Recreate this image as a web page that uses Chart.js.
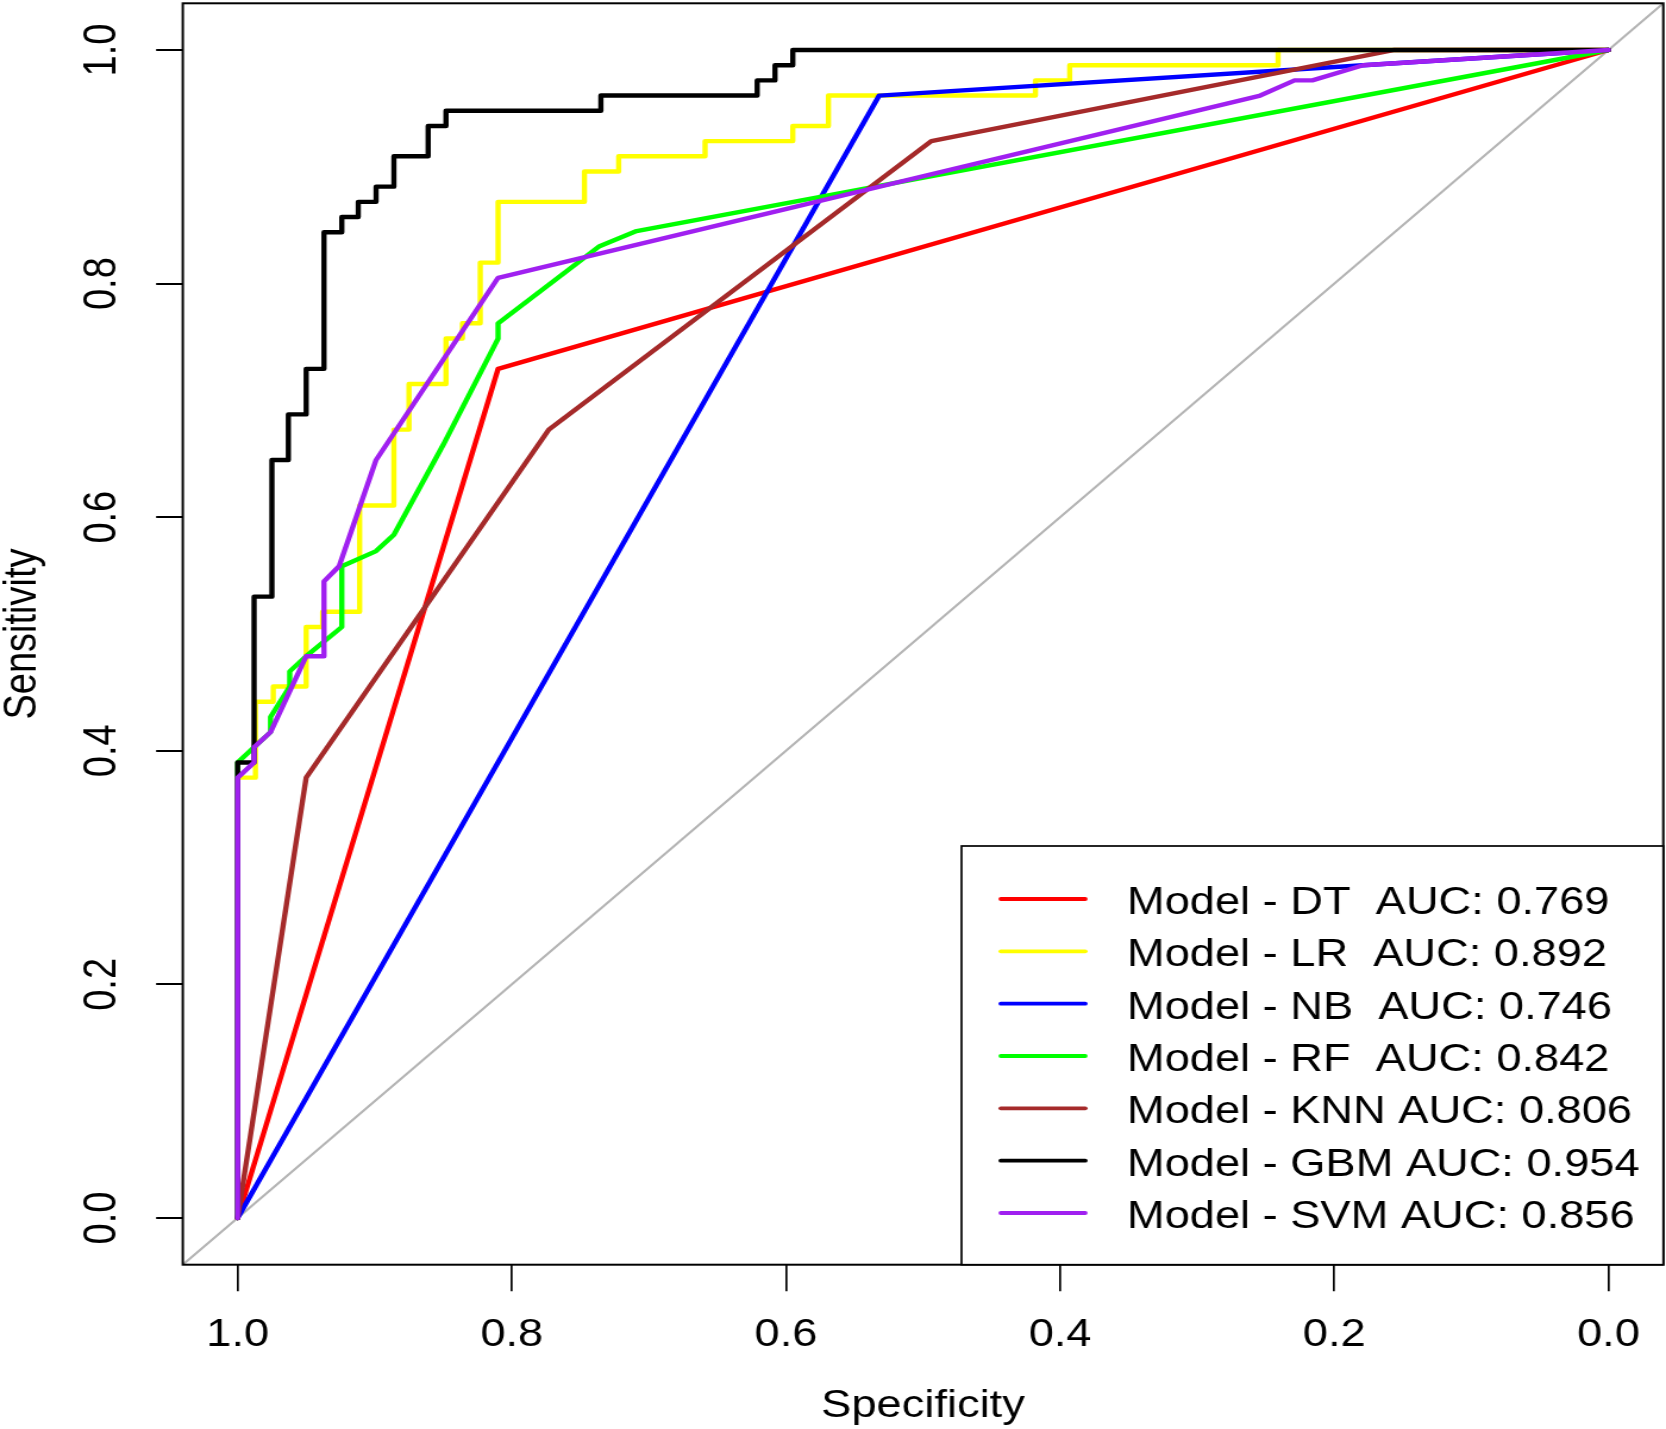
<!DOCTYPE html>
<html>
<head>
<meta charset="utf-8">
<script src="https://cdn.jsdelivr.net/npm/chart.js@4.4.1/dist/chart.umd.min.js"></script>
<style>
  html, body { margin: 0; padding: 0; background: #fff; }
  canvas { display: block; }
</style>
</head>
<body>
<!-- drawn at 1400 wide and stretched to 1666, like the source figure -->
<canvas id="roc" width="1400" height="1429" style="width:1666px;height:1429px"></canvas>
<script>
const xTicks = [1.0, 0.8, 0.6, 0.4, 0.2, 0.0];
const yTicks = [0.0, 0.2, 0.4, 0.6, 0.8, 1.0];

const modelNames = ['DT', 'LR', 'NB', 'RF', 'KNN', 'GBM', 'SVM'];
const aucValues = [0.769, 0.892, 0.746, 0.842, 0.806, 0.954, 0.856];

// roc points (specificity, sensitivity)
const dtSpec = [1, 0.810, 0];
const dtSens = [0, 0.727, 1];

const lrSpec = [1, 1, 0.987, 0.987, 0.974, 0.974, 0.950, 0.950, 0.938, 0.938, 0.911, 0.911, 0.886, 0.886,
    0.875, 0.875, 0.848, 0.848, 0.836, 0.836, 0.823, 0.823, 0.810, 0.810, 0.747, 0.747, 0.722, 0.722,
    0.659, 0.659, 0.595, 0.595, 0.569, 0.569, 0.418, 0.418, 0.393, 0.393, 0.241, 0.241, 0];
const lrSens = [0, 0.377, 0.377, 0.442, 0.442, 0.455, 0.455, 0.506, 0.506, 0.519, 0.519, 0.610, 0.610, 0.675,
    0.675, 0.714, 0.714, 0.753, 0.753, 0.766, 0.766, 0.818, 0.818, 0.870, 0.870, 0.896, 0.896, 0.909,
    0.909, 0.922, 0.922, 0.935, 0.935, 0.961, 0.961, 0.974, 0.974, 0.987, 0.987, 1, 1];

const nbSpec = [1, 0.532, 0.179, 0];
const nbSens = [0, 0.961, 0.987, 1];

const rfSpec = [1, 1, 0.988, 0.976, 0.976, 0.962, 0.962, 0.950, 0.924, 0.924, 0.899, 0.886, 0.850, 0.810,
    0.810, 0.736, 0.709, 0];
const rfSens = [0, 0.390, 0.403, 0.416, 0.429, 0.455, 0.468, 0.481, 0.506, 0.558, 0.571, 0.585, 0.662, 0.753,
    0.766, 0.832, 0.845, 1];

const knnSpec = [1, 0.950, 0.773, 0.494, 0.157, 0];
const knnSens = [0, 0.377, 0.675, 0.922, 1, 1];

const gbmSpec = [1, 1, 0.988, 0.988, 0.975, 0.975, 0.963, 0.963, 0.950, 0.950, 0.937, 0.937, 0.924, 0.924,
    0.912, 0.912, 0.899, 0.899, 0.886, 0.886, 0.861, 0.861, 0.848, 0.848, 0.735, 0.735, 0.621, 0.621,
    0.608, 0.608, 0.595, 0.595, 0];
const gbmSens = [0, 0.390, 0.390, 0.532, 0.532, 0.649, 0.649, 0.688, 0.688, 0.727, 0.727, 0.844, 0.844, 0.857,
    0.857, 0.870, 0.870, 0.883, 0.883, 0.909, 0.909, 0.935, 0.935, 0.948, 0.948, 0.961, 0.961, 0.974,
    0.974, 0.987, 0.987, 1, 1];

const svmSpec = [1, 1, 0.988, 0.988, 0.976, 0.950, 0.937, 0.937, 0.926, 0.899, 0.810, 0.254, 0.229, 0.216,
    0.179, 0];
const svmSens = [0, 0.377, 0.390, 0.403, 0.416, 0.481, 0.481, 0.545, 0.558, 0.649, 0.805, 0.961, 0.974, 0.974,
    0.987, 1];

// chance line, corner to corner
const diagSpec = [1.04, -0.04];
const diagSens = diagSpec.map(s => 1 - s);

const specs = [dtSpec, lrSpec, nbSpec, rfSpec, knnSpec, gbmSpec, svmSpec];
const senss = [dtSens, lrSens, nbSens, rfSens, knnSens, gbmSens, svmSens];
const lineColors = ['#FF0000', '#FFFF00', '#0000FF', '#00FF00', '#A52A2A', '#000000', '#A020F0'];

const font = { family: '"Liberation Sans", Arial, Helvetica, sans-serif', size: 38 };

function toPoints(xs, ys) {
    return xs.map((x, i) => ({ x: x, y: ys[i] }));
}

const datasets = modelNames.map((name, i) => ({
    label: `Model - ${name.padEnd(3)} AUC: ${aucValues[i].toFixed(3)}`,
    data: toPoints(specs[i], senss[i]),
    borderColor: lineColors[i],
    borderWidth: 4.4,
    order: modelNames.length - i   // later models on top, as in R
}));
datasets.push({
    label: 'chance',
    data: toPoints(diagSpec, diagSens),
    borderColor: '#B4B4B4',
    borderWidth: 2.1,
    order: 99
});

// full box around the plot region
const plotBox = {
    id: 'plotBox',
    afterDatasetsDraw(chart) {
        const { ctx, chartArea: a } = chart;
        ctx.save();
        ctx.strokeStyle = '#000';
        ctx.lineWidth = 2;
        ctx.strokeRect(a.left, a.top, a.right - a.left, a.bottom - a.top);
        ctx.restore();
    }
};

// R style legend in the bottom right corner
const rocLegend = {
    id: 'rocLegend',
    afterDraw(chart) {
        const { ctx, chartArea: a } = chart;
        const items = chart.data.datasets.filter(d => d.label !== 'chance');
        const boxLeft = 808;
        const boxTop = 846;
        const rowH = 52.33;
        ctx.save();
        ctx.fillStyle = '#fff';
        ctx.fillRect(boxLeft, boxTop, a.right - boxLeft, a.bottom - boxTop);
        ctx.strokeStyle = '#000';
        ctx.lineWidth = 1.7;
        ctx.strokeRect(boxLeft, boxTop, a.right - boxLeft, a.bottom - boxTop);
        ctx.font = `${font.size}px ${font.family}`;
        ctx.textBaseline = 'alphabetic';
        ctx.textAlign = 'left';
        items.forEach((d, i) => {
            const y = boxTop + 53 + i * rowH;
            ctx.strokeStyle = d.borderColor;
            ctx.lineWidth = 3.8;
            ctx.lineCap = 'round';
            ctx.beginPath();
            ctx.moveTo(boxLeft + 33, y);
            ctx.lineTo(boxLeft + 104, y);
            ctx.stroke();
            ctx.fillStyle = '#000';
            ctx.fillText(d.label, boxLeft + 139, y + 15);
        });
        ctx.restore();
    }
};

new Chart(document.getElementById('roc'), {
    type: 'line',
    data: { datasets: datasets },
    options: {
        responsive: false,
        animation: false,
        devicePixelRatio: 1,
        layout: { padding: { top: 3.3, right: 2.3, bottom: 0, left: 0 } },
        elements: {
            point: { radius: 0 },
            line: { tension: 0, fill: false, borderCapStyle: 'round', borderJoinStyle: 'round' }
        },
        plugins: {
            legend: { display: false },
            tooltip: { enabled: false }
        },
        scales: {
            x: {
                type: 'linear',
                reverse: true,
                min: -0.04,
                max: 1.04,
                afterBuildTicks: s => { s.ticks = xTicks.map(v => ({ value: v })); },
                afterFit: s => {
                    s.height = 164.3;
                    s.paddingLeft = 0;
                    s.paddingRight = 0;
                },
                ticks: {
                    callback: v => v.toFixed(1),
                    font: font,
                    color: '#000',
                    padding: 21,
                    autoSkip: false,
                    minRotation: 0,
                    maxRotation: 0
                },
                grid: { drawOnChartArea: false, tickLength: 26.6, color: '#000', lineWidth: 1.7 },
                border: { display: false },
                title: { display: true, text: 'Specificity', font: font, color: '#000', padding: { top: 0, bottom: 0 } }
            },
            y: {
                type: 'linear',
                min: -0.04,
                max: 1.04,
                afterBuildTicks: s => { s.ticks = yTicks.map(v => ({ value: v })); },
                afterFit: s => {
                    s.width = 153.6;
                    s.paddingTop = 0;
                    s.paddingBottom = 0;
                },
                ticks: {
                    callback: v => v.toFixed(1),
                    font: font,
                    color: '#000',
                    padding: 18,
                    minRotation: 90,
                    maxRotation: 90,
                    crossAlign: 'center'
                },
                grid: { drawOnChartArea: false, tickLength: 22.4, color: '#000', lineWidth: 2 },
                border: { display: false },
                title: { display: true, text: 'Sensitivity', font: font, color: '#000', padding: { top: -3.5, bottom: 0 } }
            }
        }
    },
    plugins: [plotBox, rocLegend]
});
</script>
</body>
</html>
